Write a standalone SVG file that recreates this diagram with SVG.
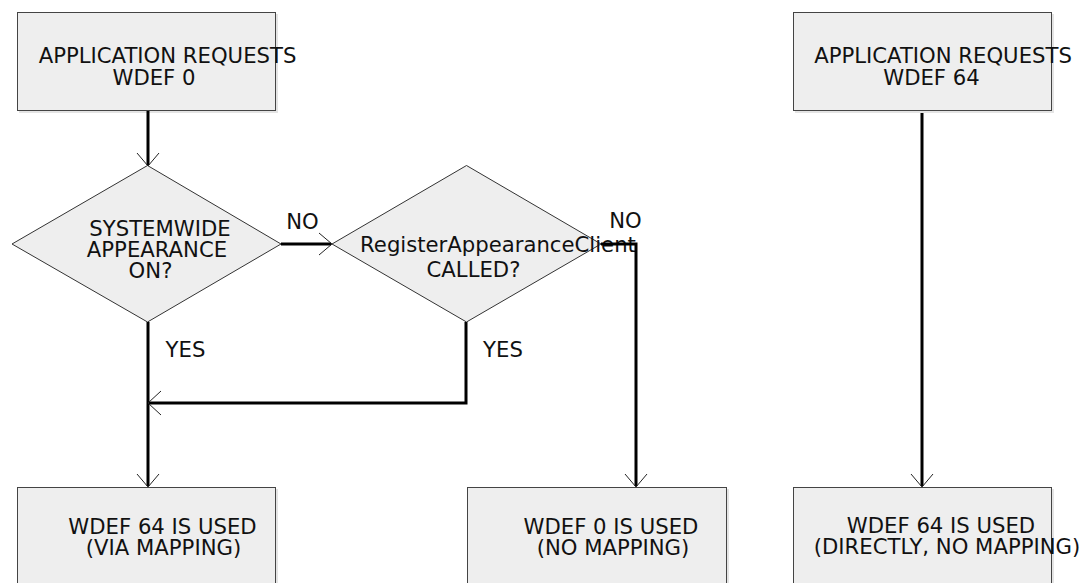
<svg xmlns="http://www.w3.org/2000/svg" width="1084" height="583" viewBox="0 0 1084 583">
<style>
.shadow{fill:#e4e4e4;stroke:none}
.box{fill:#eeeeee;stroke:#444;stroke-width:1}
.dia{fill:#eeeeee;stroke:#333;stroke-width:1}
text{font-family:"DejaVu Sans",sans-serif;font-size:21.2px;fill:#111;text-anchor:middle}
.conn{fill:none;stroke:#000;stroke-width:3}
.ah{fill:none;stroke:#222;stroke-width:1}
</style>
<rect width="1084" height="583" fill="#fff"/>
<g id="n_req0">
<rect class="shadow" x="19" y="14" width="259" height="99"/>
<rect class="box" x="17.5" y="12.5" width="258" height="98"/>
<text><tspan x="167.5" y="63">APPLICATION REQUESTS</tspan><tspan x="154" y="85">WDEF 0</tspan></text>
</g>
<g id="n_req64">
<rect class="shadow" x="795" y="14" width="259" height="99"/>
<rect class="box" x="793.5" y="12.5" width="258" height="98"/>
<text><tspan x="943" y="63">APPLICATION REQUESTS</tspan><tspan x="931.5" y="85">WDEF 64</tspan></text>
</g>
<g id="n_sys">
<polygon class="dia" points="147.5,165.5 281,244 147.5,322 12,244"/>
<text><tspan x="160" y="236">SYSTEMWIDE</tspan><tspan x="157" y="257">APPEARANCE</tspan><tspan x="150.5" y="278">ON?</tspan></text>
</g>
<g id="n_reg">
<polygon class="dia" points="466.5,165.5 601,244 466.5,322 332,244"/>
<text><tspan x="498" y="252">RegisterAppearanceClient</tspan><tspan x="473.5" y="277">CALLED?</tspan></text>
</g>
<g id="n_via">
<rect class="shadow" x="19" y="489" width="259" height="100"/>
<rect class="box" x="17.5" y="487.5" width="258" height="100"/>
<text><tspan x="162.5" y="534">WDEF 64 IS USED</tspan><tspan x="163.5" y="555">(VIA MAPPING)</tspan></text>
</g>
<g id="n_nomap">
<rect class="shadow" x="469" y="489" width="260" height="100"/>
<rect class="box" x="467.5" y="487.5" width="259" height="100"/>
<text><tspan x="611" y="534">WDEF 0 IS USED</tspan><tspan x="613" y="555">(NO MAPPING)</tspan></text>
</g>
<g id="n_direct">
<rect class="shadow" x="795" y="489" width="259" height="100"/>
<rect class="box" x="793.5" y="487.5" width="258" height="100"/>
<text><tspan x="941" y="533">WDEF 64 IS USED</tspan><tspan x="947" y="554">(DIRECTLY, NO MAPPING)</tspan></text>
</g>
<g id="connectors">
<path class="conn" d="M148,111 V165"/>
<path class="ah" d="M137,153 L148,166 L159,153"/>
<path class="conn" d="M281,244 H331"/>
<path class="ah" d="M319,233 L332,244 L319,255"/>
<text x="302.5" y="229">NO</text>
<path class="conn" d="M148,322 V486"/>
<path class="ah" d="M137,474 L148,487 L159,474"/>
<text x="185.5" y="357">YES</text>
<path class="conn" d="M466,322 V403 H149"/>
<path class="ah" d="M161,391 L148,403 L161,415"/>
<text x="503" y="357">YES</text>
<path class="conn" d="M601,244 H636 V486"/>
<path class="ah" d="M625,474 L636,487 L647,474"/>
<text x="625.5" y="228">NO</text>
<path class="conn" d="M922,113 V486"/>
<path class="ah" d="M911,474 L922,487 L933,474"/>
</g>
</svg>
